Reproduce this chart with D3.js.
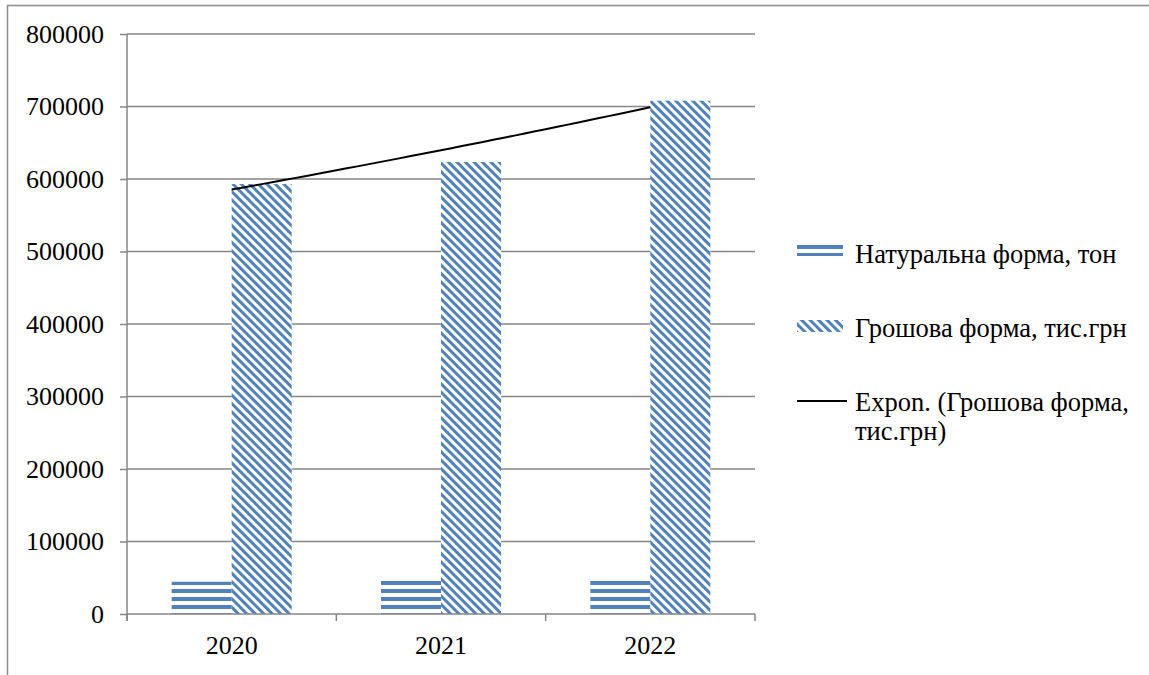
<!DOCTYPE html>
<html>
<head>
<meta charset="utf-8">
<script src="https://cdn.jsdelivr.net/npm/d3@7/dist/d3.min.js"></script>
<style>
  html, body { margin: 0; padding: 0; background: #fff; }
  svg { display: block; }
</style>
</head>
<body>
<svg id="chart" width="1149" height="675"></svg>
<script>
// Yearly volumes
const years = ["2020", "2021", "2022"];
const naturalTons = [44500, 46000, 47500];
const moneyThousands = [593000, 623500, 708000];
const yTicks = [0, 100000, 200000, 300000, 400000, 500000, 600000, 700000, 800000];
const seriesNames = ["Натуральна форма, тон", "Грошова форма, тис.грн"];
const trendLines = ["Expon. (Грошова форма,", "тис.грн)"];

const svg = d3.select("#chart");
const blue = "#4f81bd";
const gridColor = "#868686";
const serif = "'Liberation Serif', 'Times New Roman', serif";

// Hatch patterns for the two bar series
const defs = svg.append("defs");
const horiz = defs.append("pattern")
  .attr("id", "horizStripes").attr("patternUnits", "userSpaceOnUse")
  .attr("width", 8).attr("height", 8)
  .attr("patternTransform", "translate(0,1)");
horiz.append("rect").attr("width", 8).attr("height", 8).attr("fill", "#fff");
horiz.append("rect").attr("y", 4).attr("width", 8).attr("height", 4).attr("fill", blue);

const diag = defs.append("pattern")
  .attr("id", "diagStripes").attr("patternUnits", "userSpaceOnUse")
  .attr("width", 12).attr("height", 6)
  .attr("patternTransform", "rotate(45)");
diag.append("rect").attr("width", 12).attr("height", 6).attr("fill", "#fff");
diag.append("rect").attr("y", 0).attr("width", 12).attr("height", 3).attr("fill", blue);

// Outer frame (left and top edges)
svg.append("path")
  .attr("d", "M7.5,675 L7.5,5.5 L1149,5.5")
  .attr("fill", "none").attr("stroke", "#8c8c8c").attr("stroke-width", 1.5);

const plot = { left: 127, right: 755, top: 34, bottom: 614 };

const x = d3.scaleBand().domain(years).range([plot.left, plot.right]).paddingInner(0).paddingOuter(0);
const y = d3.scaleLinear().domain([0, 800000]).range([plot.bottom, plot.top]);
const barW = 60;

// Horizontal gridlines
svg.append("g").selectAll("line").data(yTicks.filter(d => d > 0)).join("line")
  .attr("x1", plot.left).attr("x2", plot.right)
  .attr("y1", d => y(d)).attr("y2", d => y(d))
  .attr("stroke", gridColor).attr("stroke-width", 1.5);

// Bars
const center = d => x(d) + x.bandwidth() / 2;
svg.append("g").selectAll("rect").data(years).join("rect")
  .attr("x", d => center(d) - barW)
  .attr("width", barW)
  .attr("y", (d, i) => y(naturalTons[i]))
  .attr("height", (d, i) => y(0) - y(naturalTons[i]))
  .attr("fill", "url(#horizStripes)");
svg.append("g").selectAll("rect").data(years).join("rect")
  .attr("x", d => center(d))
  .attr("width", barW)
  .attr("y", (d, i) => y(moneyThousands[i]))
  .attr("height", (d, i) => y(0) - y(moneyThousands[i]))
  .attr("fill", "url(#diagStripes)");

// Exponential trend fitted to the money series (least squares on ln y)
const xs = moneyThousands.map((d, i) => i + 1);
const ln = moneyThousands.map(Math.log);
const mx = d3.mean(xs), my = d3.mean(ln);
const b = d3.sum(xs, (xi, i) => (xi - mx) * (ln[i] - my)) / d3.sum(xs, xi => (xi - mx) ** 2);
const a = my - b * mx;
const trendPts = d3.range(1, 3.001, 0.05).map(t => [t, Math.exp(a + b * t)]);
const tx = d3.scaleLinear().domain([1, 3]).range([center(years[0]), center(years[2])]);
svg.append("path")
  .datum(trendPts)
  .attr("d", d3.line().x(d => tx(d[0])).y(d => y(d[1])))
  .attr("fill", "none").attr("stroke", "#000").attr("stroke-width", 2);

// Y axis
const yAxis = d3.axisLeft(y).tickValues(yTicks).tickFormat(d3.format("d")).tickSize(7).tickPadding(16);
const gy = svg.append("g").attr("transform", `translate(${plot.left},0)`).call(yAxis);
gy.attr("font-family", null);
gy.select(".domain").attr("d", `M0,${plot.top}V${plot.bottom + 7}`).attr("stroke", gridColor).attr("stroke-width", 1.5);
gy.selectAll(".tick line").attr("stroke", gridColor).attr("stroke-width", 1.5);
gy.selectAll(".tick text")
  .style("font-family", serif).style("font-size", "26px").style("fill", "#000");

// X axis
const xAxis = d3.axisBottom(x).tickSize(0).tickPadding(22);
const gx = svg.append("g").attr("transform", `translate(0,${plot.bottom})`).call(xAxis);
gx.attr("font-family", null);
gx.select(".domain").attr("d", `M${plot.left},0H${plot.right}`).attr("stroke", gridColor).attr("stroke-width", 1.5);
gx.selectAll(".tick text")
  .style("font-family", serif).style("font-size", "26px").style("fill", "#000");
gx.append("g").selectAll("line").data([...years.map(d => x(d)), plot.right]).join("line")
  .attr("x1", d => d).attr("x2", d => d).attr("y1", 0).attr("y2", 7)
  .attr("stroke", gridColor).attr("stroke-width", 1.5);

// Legend
const lg = svg.append("g");
const lx = 797, sw = 46, tx0 = 855;
lg.append("rect").attr("x", lx).attr("y", 245).attr("width", sw).attr("height", 11).attr("fill", "url(#horizStripes)");
lg.append("rect").attr("x", lx).attr("y", 320).attr("width", sw).attr("height", 12).attr("fill", "url(#diagStripes)");
lg.append("line").attr("x1", lx).attr("x2", lx + sw + 4).attr("y1", 401).attr("y2", 401)
  .attr("stroke", "#000").attr("stroke-width", 2);
const legendText = [
  { t: seriesNames[0], y: 263 },
  { t: seriesNames[1], y: 337 },
  { t: trendLines[0], y: 411 },
  { t: trendLines[1], y: 440 }
];
lg.selectAll("text").data(legendText).join("text")
  .attr("x", tx0).attr("y", d => d.y)
  .style("font-family", serif).style("font-size", "26.5px").style("fill", "#000")
  .text(d => d.t);
</script>
</body>
</html>
